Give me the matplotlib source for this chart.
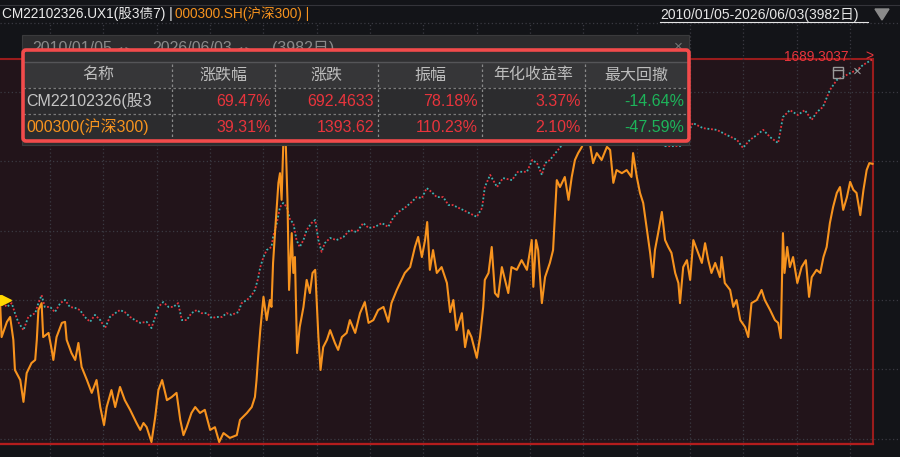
import matplotlib
matplotlib.use("Agg")
import matplotlib.pyplot as plt
from matplotlib.patches import Rectangle, FancyBboxPatch, Polygon

plt.rcParams["font.family"] = ["Liberation Sans", "Noto Sans CJK SC", "DejaVu Sans"]

BG = "#131418"
ZONE = "#22141a"
ORANGE = "#f7931e"
RED = "#e8343c"
TEAL = "#3db5b5"
GREEN = "#1db45a"

# ---- series: cumulative return (%) vs time (fractional year) ----
hs300_t = [
    2010.06, 2010.09, 2010.19, 2010.25, 2010.31, 2010.34, 2010.44, 2010.50, 2010.56, 2010.65,
    2010.72, 2010.75, 2010.78, 2010.84, 2010.87, 2010.97, 2011.03, 2011.06, 2011.12, 2011.22,
    2011.28, 2011.31, 2011.40, 2011.47, 2011.53, 2011.59, 2011.69, 2011.78, 2011.87, 2011.94,
    2012.01, 2012.06, 2012.15, 2012.22, 2012.31, 2012.40, 2012.50, 2012.62, 2012.69, 2012.75,
    2012.81, 2012.90, 2012.97, 2013.03, 2013.10, 2013.19, 2013.28, 2013.37, 2013.44, 2013.50,
    2013.56, 2013.65, 2013.72, 2013.81, 2013.90, 2014.00, 2014.09, 2014.17, 2014.25, 2014.37,
    2014.50, 2014.56, 2014.69, 2014.78, 2014.84, 2014.87, 2014.90, 2014.94, 2015.00, 2015.06,
    2015.12, 2015.15, 2015.18, 2015.22, 2015.28, 2015.31, 2015.34, 2015.37, 2015.39, 2015.42,
    2015.45, 2015.48, 2015.53, 2015.56, 2015.59, 2015.63, 2015.68, 2015.75, 2015.81, 2015.87,
    2015.92, 2015.97, 2016.03, 2016.07, 2016.12, 2016.19, 2016.25, 2016.34, 2016.40, 2016.47,
    2016.56, 2016.62, 2016.72, 2016.81, 2016.90, 2016.97, 2017.06, 2017.15, 2017.25, 2017.34,
    2017.40, 2017.50, 2017.59, 2017.65, 2017.75, 2017.84, 2017.90, 2017.97, 2018.03, 2018.07,
    2018.12, 2018.18, 2018.25, 2018.34, 2018.44, 2018.50, 2018.56, 2018.62, 2018.72, 2018.78,
    2018.84, 2018.90, 2019.00, 2019.06, 2019.12, 2019.15, 2019.22, 2019.28, 2019.34, 2019.40,
    2019.47, 2019.53, 2019.59, 2019.65, 2019.75, 2019.84, 2019.94, 2020.03, 2020.06, 2020.11,
    2020.15, 2020.22, 2020.28, 2020.37, 2020.43, 2020.50, 2020.56, 2020.65, 2020.72, 2020.78,
    2020.84, 2020.90, 2020.97, 2021.00, 2021.07, 2021.12, 2021.18, 2021.25, 2021.34, 2021.44,
    2021.50, 2021.56, 2021.62, 2021.72, 2021.81, 2021.90, 2021.93, 2022.00, 2022.06, 2022.12,
    2022.19, 2022.25, 2022.30, 2022.34, 2022.40, 2022.47, 2022.53, 2022.59, 2022.65, 2022.72,
    2022.78, 2022.81, 2022.87, 2022.94, 2023.00, 2023.06, 2023.15, 2023.22, 2023.28, 2023.34,
    2023.40, 2023.47, 2023.56, 2023.59, 2023.65, 2023.75, 2023.81, 2023.87, 2023.94, 2024.03,
    2024.09, 2024.15, 2024.25, 2024.34, 2024.40, 2024.50, 2024.59, 2024.65, 2024.70, 2024.74,
    2024.77, 2024.82, 2024.87, 2024.93, 2025.01, 2025.09, 2025.17, 2025.23, 2025.28, 2025.37,
    2025.44, 2025.50, 2025.56, 2025.62, 2025.68, 2025.75, 2025.81, 2025.87, 2025.94, 2026.00,
    2026.06, 2026.12, 2026.19, 2026.25, 2026.31, 2026.36, 2026.42,
]
hs300_ret = [
    0, -10.7, -6.3, -4.9, -11.5, -20.2, -23.1, -29.4, -21.1, -18.2,
    -17.3, -11.5, -2.9, -0.9, -10.7, -9.5, -14.4, -17.3, -10.7, -6.6,
    -6.3, -11.5, -15.3, -17.3, -12.4, -19.3, -23.1, -26.8, -23.1, -30.9,
    -36.1, -30.9, -26.0, -30.9, -25.1, -28.9, -31.7, -35.5, -37.5, -35.5,
    -36.7, -41.0, -33.8, -26.0, -23.1, -28.9, -28.0, -26.8, -34.6, -39.0,
    -36.7, -32.6, -30.9, -32.6, -31.7, -37.5, -36.7, -41.0, -38.4, -39.8,
    -39.0, -34.6, -32.6, -30.9, -28.0, -23.1, -16.5, -8.7, 0.9, -5.8,
    0, -2.0, 10.7, 20.2, 33.8, 36.6, 28.9, 44.2, 50.5, 44.2,
    28.9, 2.9, 19.3, 7.8, 12.4, -15.3, -7.8, -2.0, 5.8, 2.0,
    7.8, 8.7, -10.7, -20.2, -13.6, -11.5, -8.7, -12.4, -14.4, -10.7,
    -9.5, -5.8, -9.5, -3.8, -0.6, -6.6, -5.8, -2.9, -2.0, -6.3,
    -0.9, 2.9, 5.8, 7.8, 9.5, 15.3, 18.2, 12.4, 17.3, 22.5,
    8.7, 14.4, 7.8, 9.5, 4.9, -3.5, 0, -8.7, -3.8, -13.6,
    -8.7, -10.7, -16.7, -10.7, -2.0, 5.8, 7.8, 15.3, 2.0, 0.9,
    9.5, 5.8, 2.0, 9.5, 8.7, 11.5, 8.7, 17.3, 3.8, 17.3,
    14.4, -0.9, 6.6, 10.7, 14.4, 34.6, 32.6, 35.5, 28.9, 35.5,
    40.4, 42.4, 44.2, 46.2, 52.0, 45.3, 39.5, 42.4, 40.4, 44.2,
    43.3, 33.8, 37.5, 36.6, 37.5, 35.5, 42.4, 35.5, 30.9, 28.0,
    20.2, 13.6, 6.6, 14.4, 19.3, 25.4, 17.3, 15.3, 13.6, 7.8,
    4.9, -0.9, 9.5, 11.5, 5.8, 17.3, 13.6, 10.7, 16.4, 11.5,
    7.8, 10.7, 6.6, 12.4, 4.9, 2.9, -2.0, 0, -5.8, -7.8,
    -10.7, -0.9, 0, 2.9, 0, -2.9, -5.8, -6.6, -11.0, 19.3,
    7.8, 15.3, 9.5, 12.4, 4.9, 9.5, 11.5, 0.9, 6.6, 8.7,
    7.8, 12.4, 15.3, 22.2, 26.8, 30.9, 32.6, 26.0, 29.7, 34.1,
    31.8, 30.9, 24.5, 31.8, 37.5, 39.5, 39.3,
]

fund_t = [
    2010.06, 2010.19, 2010.28, 2010.34, 2010.40, 2010.50, 2010.59, 2010.72, 2010.78, 2010.84,
    2010.90, 2011.00, 2011.09, 2011.19, 2011.28, 2011.37, 2011.47, 2011.56, 2011.65, 2011.75,
    2011.84, 2011.94, 2012.03, 2012.12, 2012.22, 2012.31, 2012.40, 2012.50, 2012.59, 2012.69,
    2012.81, 2012.90, 2012.97, 2013.03, 2013.12, 2013.22, 2013.31, 2013.40, 2013.47, 2013.56,
    2013.65, 2013.75, 2013.84, 2013.94, 2014.03, 2014.12, 2014.22, 2014.31, 2014.40, 2014.53,
    2014.59, 2014.69, 2014.78, 2014.84, 2014.90, 2014.94, 2015.00, 2015.06, 2015.15, 2015.18,
    2015.25, 2015.31, 2015.37, 2015.44, 2015.50, 2015.56, 2015.62, 2015.68, 2015.75, 2015.81,
    2015.90, 2015.97, 2016.03, 2016.09, 2016.15, 2016.25, 2016.37, 2016.50, 2016.62, 2016.75,
    2016.87, 2016.97, 2017.09, 2017.22, 2017.34, 2017.43, 2017.53, 2017.65, 2017.78, 2017.87,
    2017.97, 2018.06, 2018.15, 2018.25, 2018.37, 2018.47, 2018.55, 2018.74, 2019.00, 2019.10,
    2019.15, 2019.25, 2019.38, 2019.49, 2019.66, 2019.77, 2019.94, 2020.04, 2020.13, 2020.22,
    2020.28, 2020.37, 2020.49, 2020.75, 2021.12, 2021.50, 2021.87, 2022.25, 2022.53, 2022.81,
    2022.94, 2023.05, 2023.24, 2023.50, 2023.69, 2023.88, 2023.99, 2024.12, 2024.25, 2024.37,
    2024.50, 2024.65, 2024.74, 2024.87, 2025.02, 2025.15, 2025.28, 2025.38, 2025.49, 2025.62,
    2025.75, 2025.87, 2026.00, 2026.13, 2026.24, 2026.42,
]
fund_ret = [
    0, -2.0, -0.9, -3.8, -6.3, -8.7, -4.9, -3.8, -0.9, 1.4,
    -2.0, -2.0, -3.5, -0.9, 0, -2.0, -2.3, -2.9, -4.9, -6.3,
    -4.3, -5.8, -8.1, -4.9, -3.8, -2.9, -3.5, -4.9, -5.8, -6.6,
    -6.3, -8.1, -4.9, -2.0, -0.6, -2.0, -2.0, -0.9, -5.8, -5.8,
    -3.8, -2.9, -3.8, -3.8, -5.2, -4.9, -4.9, -3.8, -4.3, -3.5,
    -0.9, 0, 1.4, 2.9, 6.3, 9.5, 12.4, 14.4, 15.3, 18.2,
    22.2, 26.8, 28.0, 26.8, 23.1, 22.2, 17.3, 15.3, 17.3, 20.2,
    22.2, 23.1, 17.3, 13.9, 16.4, 17.9, 17.3, 18.2, 20.2, 19.6,
    22.2, 20.8, 21.1, 22.2, 21.1, 23.7, 25.4, 26.6, 28.3, 29.7,
    29.4, 32.3, 31.2, 29.7, 29.7, 27.4, 27.4, 26.0, 24.0, 26.6,
    32.6, 36.1, 32.6, 35.2, 34.6, 37.0, 37.0, 40.4, 39.5, 36.1,
    39.5, 40.4, 42.7, 47.6, 52.5, 54.8, 52.5, 46.8, 44.4, 44.4,
    47.6, 51.1, 49.6, 49.1, 47.6, 46.2, 43.9, 46.2, 47.6, 49.1,
    47.0, 45.3, 52.8, 54.8, 53.4, 54.8, 52.0, 54.3, 55.7, 60.6,
    63.5, 64.4, 65.5, 66.4, 67.8, 69.47,
]

headers = ["名称", "涨跌幅", "涨跌", "振幅", "年化收益率", "最大回撤"]
names = ["CM22102326(股3", "000300(沪深300)"]
chg_pct = ["69.47%", "39.31%"]
chg_abs = ["692.4633", "1393.62"]
amplitude = ["78.18%", "110.23%"]
annual = ["3.37%", "2.10%"]
max_dd = ["-14.64%", "-47.59%"]
max_label = "1689.3037"
date_start, date_end, n_days = "2010/01/05", "2026/06/03", 3982

fig = plt.figure(figsize=(9, 4.57), dpi=100, facecolor=BG)

# ---- chart area ----
ax = fig.add_axes([0, 0, 1, (457 - 22) / 457])
ax.set_facecolor(BG)
ax.set_xlim(2010.06, 2026.935)
ax.set_ylim(-45.31, 80.23)
ax.set_xticks(range(2011, 2027))
ax.set_yticks(range(-40, 81, 20))
ax.tick_params(length=0, labelbottom=False, labelleft=False)
for s in ax.spines.values():
    s.set_visible(False)
ax.set_axisbelow(True)
ax.grid(True, color="#3a3a42", ls=(0, (1, 2)), lw=0.9)

t0, t1 = hs300_t[0], fund_t[-1]
lo = min(hs300_ret)
ax.add_patch(Rectangle((t0 - 0.1, lo - 0.6), t1 - t0 + 0.1, fund_ret[-1] - lo + 0.6,
                       facecolor=ZONE, edgecolor="#9a1c1c", lw=1.5, zorder=0.3))
ax.axhline(lo - 0.6, xmin=0, xmax=(t1 - 2010.06) / (2026.935 - 2010.06),
           color="#b31d1d", lw=1.6, zorder=0.35)

ax.plot(fund_t, fund_ret, color=RED, lw=1.3, ls=(0, (1, 3)), zorder=3)
ax.plot(fund_t, fund_ret, color=TEAL, lw=1.3, ls=(2, (1, 3)), zorder=3)
ax.plot(hs300_t, hs300_ret, color=ORANGE, lw=1.5, zorder=4)
ax.plot([t0 + 0.12], [0], marker=">", color="#ffd800", ms=7, zorder=5, clip_on=False)
ax.plot([t0 - 0.02], [0], marker="o", color="#ffd800", ms=7, zorder=5)

ax.text(t1 - 0.45, fund_ret[-1] + 0.8, max_label, color=RED, fontsize=9.8,
        ha="right", va="center")
ax.text(t1 - 0.06, fund_ret[-1] + 0.8, ">", color=RED, fontsize=10,
        ha="center", va="center")

# ---- overlay in pixel units for header / stats panel ----
ov = fig.add_axes([0, 0, 1, 1], facecolor="none")
ov.set_xlim(0, 900)
ov.set_ylim(457, 0)
ov.axis("off")

ov.axhline(5, color="#34343a", lw=0.8)
ov.text(2, 14, "CM22102326.UX1(股3债7) |", color="#ececec", fontsize=9.8, va="center")
ov.text(175, 14, "000300.SH(沪深300) |", color=ORANGE, fontsize=9.8, va="center")
ov.text(660, 15, f"{date_start}-{date_end}({n_days}日)", color="#e6e6e6",
        fontsize=10, va="center")
ov.plot([660, 868], [22, 22], color="#e6e6e6", lw=0.8)
ov.add_patch(Polygon([[875, 9], [889, 9], [882, 20]], closed=True, color="#8a8a8a"))

# icons at the top-right of the zone
ov.add_patch(Rectangle((833, 67), 10, 11, facecolor="none", edgecolor="#9a9a9a", lw=1))
ov.plot([833, 843], [70, 70], color="#9a9a9a", lw=1)
ov.text(857, 72, "×", color="#9a9a9a", fontsize=11, ha="center", va="center")

# stats panel
ov.add_patch(Rectangle((22, 35), 667, 110, facecolor="#2c2c2e", edgecolor="#3a3a3c",
                       lw=0.8, zorder=2))
ov.text(32, 48.5, date_start, color="#8a8a8a", fontsize=11.5, va="center", zorder=3)
ov.text(117, 48.5, "◂ ▸", color="#8a8a8a", fontsize=7.5, va="center", zorder=3,
        family="DejaVu Sans")
ov.text(152, 48.5, date_end, color="#8a8a8a", fontsize=11.5, va="center", zorder=3)
ov.text(237, 48.5, "◂ ▸", color="#8a8a8a", fontsize=7.5, va="center", zorder=3,
        family="DejaVu Sans")
ov.text(272, 48.5, f"({n_days}日)", color="#8a8a8a", fontsize=11.5, va="center", zorder=3)
ov.text(678, 47, "×", color="#777777", fontsize=11, ha="center", va="center", zorder=3)
ov.add_patch(Rectangle((23, 51), 665, 11, facecolor="#303032", lw=0, zorder=3.5))
ov.add_patch(Rectangle((23, 62), 665, 26, facecolor="#363638", lw=0, zorder=3.5))
ov.plot([23, 688], [62, 62], color="#555558", lw=1, zorder=4)
for yy in (88, 114):
    ov.plot([23, 688], [yy, yy], color="#7a7a7a", lw=0.9, ls=(0, (2, 2)), zorder=4)

edges = [24, 172, 275, 378, 482, 585, 688]
for xx in edges[1:-1]:
    ov.plot([xx, xx], [64, 140], color="#8a8a8a", lw=0.9, ls=(0, (2, 2)), zorder=4)

for i, h in enumerate(headers):
    ov.text((edges[i] + edges[i + 1]) / 2, 75, h, color="#bdbdbd", fontsize=11.5,
            ha="center", va="center", zorder=5)

name_colors = ["#c4c4c4", ORANGE]
for r in range(2):
    yy = 101 + 26 * r
    ov.text(26, yy, names[r], color=name_colors[r], fontsize=11.5, va="center", zorder=5)
    vals = [chg_pct[r], chg_abs[r], amplitude[r], annual[r], max_dd[r]]
    for c, v in enumerate(vals):
        col = GREEN if v.startswith("-") else RED
        ov.text(edges[c + 2] - 4, yy, v, color=col, fontsize=11.5, ha="right",
                va="center", zorder=5)

ov.add_patch(FancyBboxPatch((23, 50), 666, 91, boxstyle="round,pad=0,rounding_size=3",
                            facecolor="none", edgecolor="#f24b4b", lw=2.6, zorder=6))

fig.savefig("out.png", dpi=100, facecolor=BG)
